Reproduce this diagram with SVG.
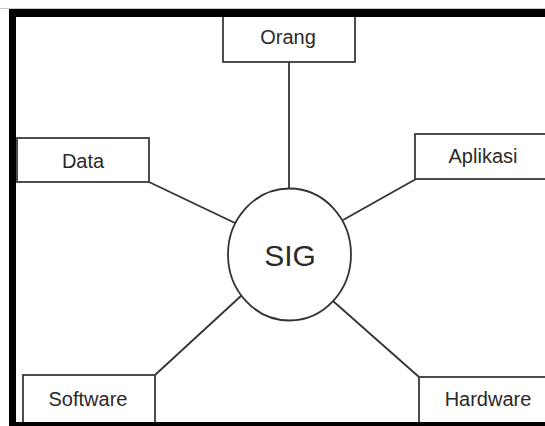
<svg xmlns="http://www.w3.org/2000/svg" width="545" height="426" viewBox="0 0 545 426">
  <style>
    .box { fill: #ffffff; stroke: #3a3a3a; stroke-width: 1.8; }
    .lbl { font-family: "Liberation Sans", Arial, sans-serif; font-size: 20px; fill: #2a2a2a; text-anchor: middle; }
    .conn line { stroke: #333333; stroke-width: 1.8; }
    .frame { fill: #000000; }
  </style>
  <rect x="0" y="0" width="545" height="426" fill="#ffffff"/>
  <g id="connectors" class="conn">
    <line x1="289" y1="62" x2="289" y2="188"/>
    <line x1="149" y1="182" x2="235" y2="223"/>
    <line x1="416" y1="179" x2="343" y2="220"/>
    <line x1="155" y1="375" x2="242" y2="295"/>
    <line x1="419" y1="377" x2="333" y2="301"/>
  </g>
  <g id="node-sig">
    <ellipse cx="289.5" cy="254.5" rx="61.5" ry="66" fill="#ffffff" stroke="#333333" stroke-width="1.8"/>
    <text x="290" y="266" class="lbl" style="font-size:30px">SIG</text>
  </g>
  <g id="node-orang">
    <rect x="223" y="14" width="132" height="48" class="box"/>
    <text x="288" y="44" class="lbl">Orang</text>
  </g>
  <g id="node-data">
    <rect x="17" y="138" width="132" height="44" class="box"/>
    <text x="83" y="168" class="lbl">Data</text>
  </g>
  <g id="node-aplikasi">
    <rect x="415" y="134" width="140" height="45" class="box"/>
    <text x="483" y="163" class="lbl">Aplikasi</text>
  </g>
  <g id="node-software">
    <rect x="23" y="375" width="132" height="50" class="box"/>
    <text x="88" y="406" class="lbl">Software</text>
  </g>
  <g id="node-hardware">
    <rect x="419" y="377" width="140" height="50" class="box"/>
    <text x="488" y="406" class="lbl">Hardware</text>
  </g>
  <g id="frame">
    <line x1="0" y1="8.5" x2="545" y2="8.5" stroke="#cccccc" stroke-width="1"/>
    <rect x="9" y="9" width="536" height="8" class="frame"/>
    <rect x="9" y="9" width="7" height="417" class="frame"/>
    <rect x="9" y="422" width="536" height="4" class="frame"/>
  </g>
</svg>
